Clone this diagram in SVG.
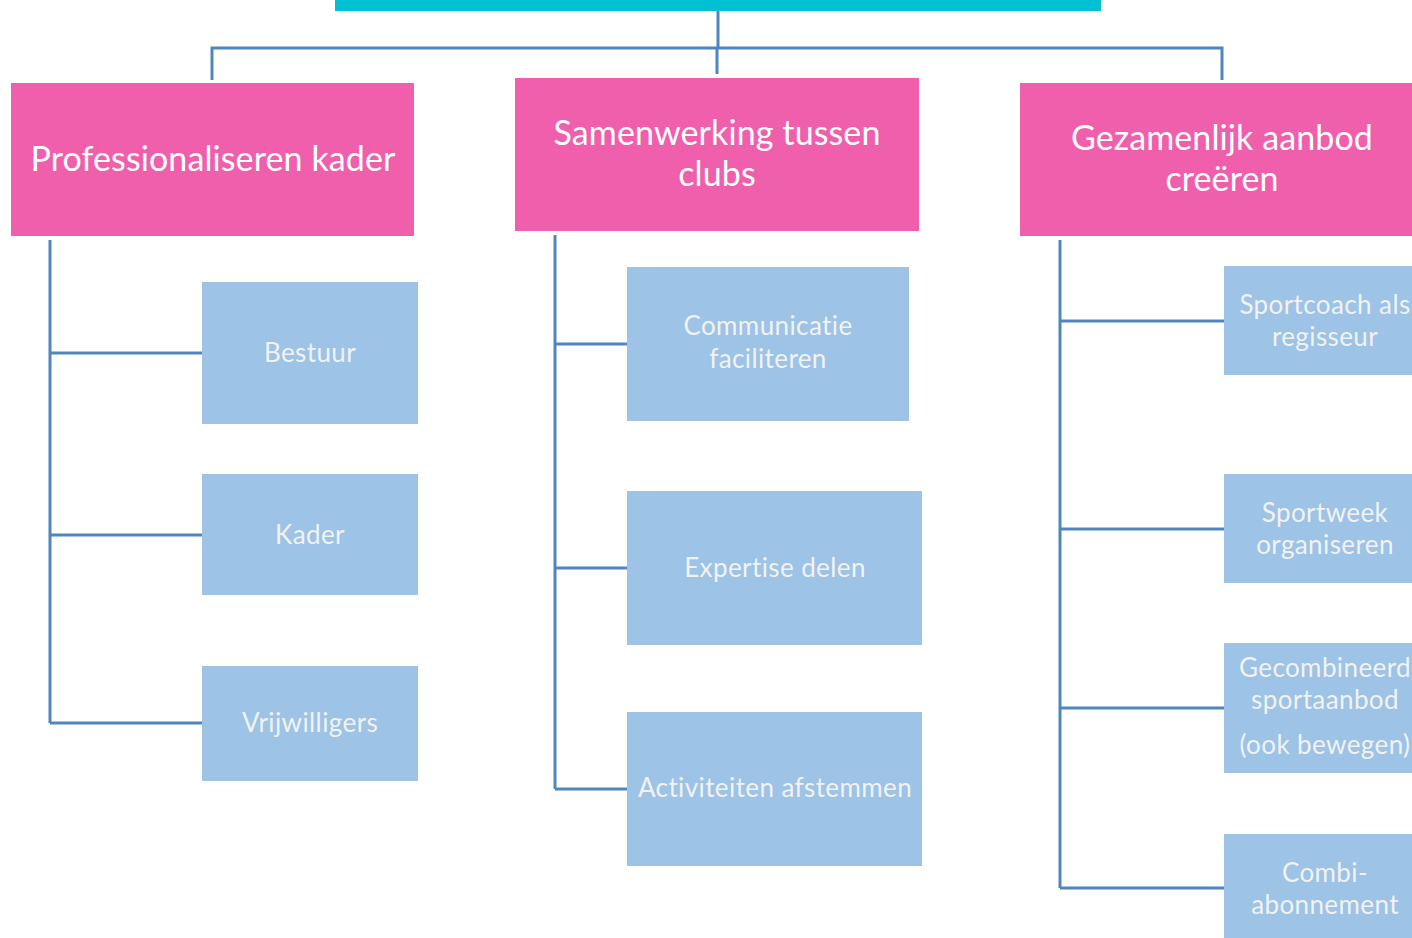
<svg xmlns="http://www.w3.org/2000/svg" width="1412" height="938" viewBox="0 0 1412 938">
<style>
.pink{fill:#EF5FAB}
.blue{fill:#9DC3E6}
text{font-variant-ligatures:none;font-feature-settings:"liga" 0}
.ph{font-family:Lato,"Open Sans",sans-serif;font-size:34px;fill:#FFFFFF;text-anchor:middle;letter-spacing:0.1px}
.bt{font-family:Lato,"Open Sans",sans-serif;font-size:26px;fill:#F2F2F2;text-anchor:middle;letter-spacing:0.4px}
.ln{stroke:#4F86BE;stroke-width:3;fill:none}
</style>
<rect width="1412" height="938" fill="#FFFFFF"/>
<rect id="top" x="335" y="0" width="766" height="11" fill="#00C0D2"/>
<g id="connectors" class="ln">
<path d="M718 11 V48 M212 80 V48 H1222 V80 M717 48 V74"/>
<path d="M50 240 V723 M50 353 H202 M50 535 H202 M50 723 H202"/>
<path d="M555 235 V789 M555 344 H627 M555 568 H627 M555 789 H627"/>
<path d="M1060 240 V888 M1060 321 H1224 M1060 529 H1224 M1060 708 H1224 M1060 888 H1224"/>
</g>
<g id="n1"><rect class="pink" x="11" y="83" width="403" height="153"/><text class="ph" x="213" y="171">Professionaliseren kader</text></g>
<g id="n2"><rect class="pink" x="515" y="78" width="404" height="153"/><text class="ph" x="717" y="145">Samenwerking tussen</text><text class="ph" x="717" y="186">clubs</text></g>
<g id="n3"><rect class="pink" x="1020" y="83" width="392" height="153"/><text class="ph" x="1222" y="150">Gezamenlijk aanbod</text><text class="ph" x="1222" y="191">creëren</text></g>
<g id="b1"><rect class="blue" x="202" y="282" width="216" height="142"/><text class="bt" x="310" y="362">Bestuur</text></g>
<g id="b2"><rect class="blue" x="202" y="474" width="216" height="121"/><text class="bt" x="310" y="544">Kader</text></g>
<g id="b3"><rect class="blue" x="202" y="666" width="216" height="115"/><text class="bt" x="310" y="732">Vrijwilligers</text></g>
<g id="m1"><rect class="blue" x="627" y="267" width="282" height="154"/><text class="bt" x="768" y="335">Communicatie</text><text class="bt" x="768" y="368">faciliteren</text></g>
<g id="m2"><rect class="blue" x="627" y="491" width="295" height="154"/><text class="bt" x="775" y="577">Expertise delen</text></g>
<g id="m3"><rect class="blue" x="627" y="712" width="295" height="154"/><text class="bt" x="775" y="797">Activiteiten afstemmen</text></g>
<g id="r1"><rect class="blue" x="1224" y="266" width="188" height="109"/><text class="bt" x="1325" y="314">Sportcoach als</text><text class="bt" x="1325" y="346">regisseur</text></g>
<g id="r2"><rect class="blue" x="1224" y="474" width="188" height="109"/><text class="bt" x="1325" y="522">Sportweek</text><text class="bt" x="1325" y="554">organiseren</text></g>
<g id="r3"><rect class="blue" x="1224" y="643" width="188" height="130"/><text class="bt" x="1325" y="677">Gecombineerd</text><text class="bt" x="1325" y="709">sportaanbod</text><text class="bt" x="1325" y="754">(ook bewegen)</text></g>
<g id="r4"><rect class="blue" x="1224" y="834" width="188" height="104"/><text class="bt" x="1325" y="882">Combi-</text><text class="bt" x="1325" y="914">abonnement</text></g>
</svg>
